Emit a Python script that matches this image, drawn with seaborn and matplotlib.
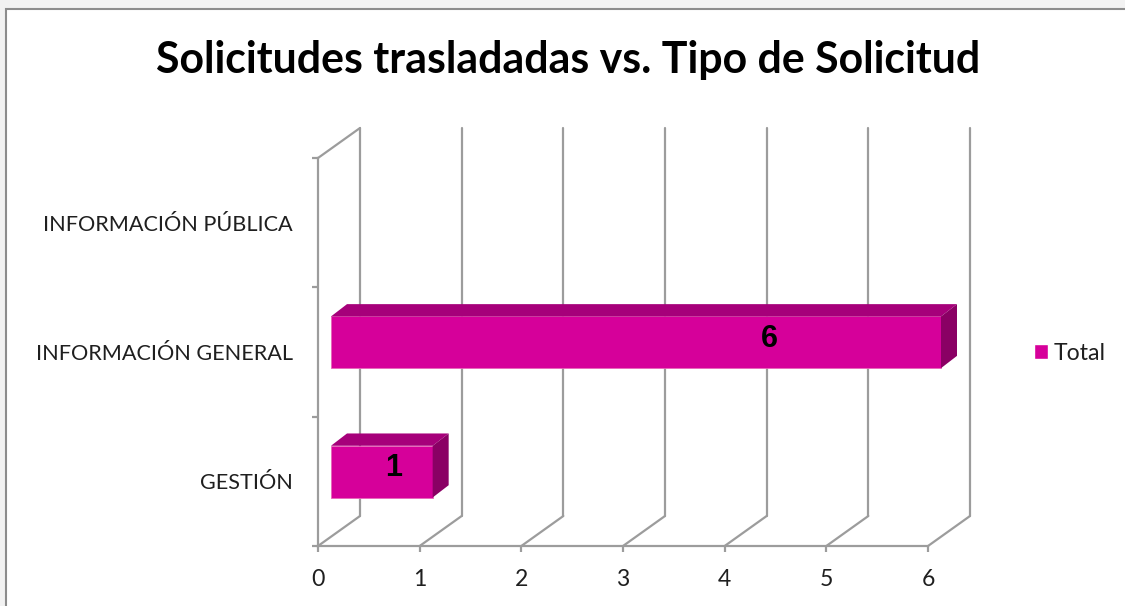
import numpy as np
import pandas as pd
import matplotlib
matplotlib.use("Agg")
import matplotlib.pyplot as plt
import seaborn as sns
from matplotlib.patches import Polygon, Rectangle, Patch
from matplotlib.lines import Line2D
from matplotlib.transforms import ScaledTranslation, IdentityTransform

# datos
categorias = ["INFORMACIÓN PÚBLICA", "INFORMACIÓN GENERAL", "GESTIÓN"]
totales = [0, 6, 1]
ticks_x = [0, 1, 2, 3, 4, 5, 6]
titulo = "Solicitudes trasladadas vs. Tipo de Solicitud"
serie = "Total"

frente = "#D6009A"
techo = "#A6007A"
lado = "#8A0064"
gris = "#9C9C9C"
texto = "#1F1F1F"

sns.set_theme(style="white")
plt.rcParams["font.family"] = ["Lato", "DejaVu Sans"]

W, H = 1125, 606
fig = plt.figure(figsize=(W / 100, H / 100), dpi=100)
fig.patch.set_facecolor("#F2F2F2")
fig.add_artist(Rectangle((6 / W, -0.05), 1.2, 1.05 - 9 / H, transform=fig.transFigure,
                         facecolor="white", edgecolor="#8C8C8C", lw=1.5, zorder=-10))

# plano frontal del grafico
x0, x1, yb, yt = 318, 928, 546, 158
ax = fig.add_axes([x0 / W, 1 - yb / H, (x1 - x0) / W, (yb - yt) / H])
ax.patch.set_alpha(0)

df = pd.DataFrame({"tipo": categorias, "total": totales})
sns.barplot(data=df, x="total", y="tipo", orient="h", order=categorias, color=frente,
            saturation=1, width=0.4, ax=ax, zorder=3, edgecolor="#E866B8", linewidth=0.6)
ax.set_xlim(0, 6)
ax.set_ylim(2.5, -0.5)
ax.set_xlabel("")
ax.set_ylabel("")

# desplazamientos 3D (px)
fdx, fdy = 13, 9.7
bdx, bdy = 16, 12.3
wdx, wdy = 42, 30
shift = ScaledTranslation(fdx / 100, fdy / 100, fig.dpi_scale_trans)
ident = IdentityTransform()

# paredes y lineas de division
ybd = ax.transAxes.transform((0, 0))[1]
ytd = ax.transAxes.transform((0, 1))[1]
for t in ticks_x:
    xd = ax.transData.transform((t, 0))[0]
    for seg in [((xd + wdx, ybd + wdy), (xd + wdx, ytd + wdy)),
                ((xd, ybd), (xd + wdx, ybd + wdy))]:
        ax.add_line(Line2D([seg[0][0], seg[1][0]], [seg[0][1], seg[1][1]], transform=ident,
                           color=gris, lw=1.6, clip_on=False, zorder=1))
xl = ax.transData.transform((0, 0))[0]
ax.add_line(Line2D([xl, xl + wdx], [ytd, ytd + wdy], transform=ident, color=gris, lw=1.6,
                   clip_on=False, zorder=1))

# barras con caras superior y lateral
for p, v in zip(ax.patches, totales):
    if v <= 0:
        p.set_visible(False)
        continue
    p.set_transform(ax.transData + shift)
    p.set_clip_on(False)
    (a, b), (c, d) = ax.transData.transform([(p.get_x(), p.get_y()),
                                             (p.get_x() + p.get_width(), p.get_y() + p.get_height())])
    l, r = min(a, c) + fdx, max(a, c) + fdx
    bo, to = min(b, d) + fdy, max(b, d) + fdy
    ax.add_patch(Polygon([(l, to), (r, to), (r + bdx, to + bdy), (l + bdx, to + bdy)],
                         closed=True, transform=ident, facecolor=techo, edgecolor="none",
                         clip_on=False, zorder=3))
    ax.add_patch(Polygon([(r, bo), (r + bdx, bo + bdy), (r + bdx, to + bdy), (r, to)],
                         closed=True, transform=ident, facecolor=lado, edgecolor="none",
                         clip_on=False, zorder=3))

# tamanos de letra ajustados al ancho
rend = fig.canvas.get_renderer()
probe = fig.text(0, 0, "INFORMACIÓN GENERAL", fontsize=16)
fs = 16 * 256 / probe.get_window_extent(rend).width
probe.remove()
probe = fig.text(0, 0, titulo, fontsize=30, fontweight="bold")
fs_t = 30 * 823 / probe.get_window_extent(rend).width
probe.remove()
probe = fig.text(0, 0, serie, fontsize=16)
fs_l = 16 * 52 / probe.get_window_extent(rend).width
probe.remove()

# ejes
for s in ["top", "right"]:
    ax.spines[s].set_visible(False)
for s in ["left", "bottom"]:
    ax.spines[s].set_color(gris)
    ax.spines[s].set_linewidth(1.6)
    ax.spines[s].set_zorder(1)
ax.set_xticks(ticks_x)
ax.set_xticklabels([str(t) for t in ticks_x])
ax.set_yticks(range(len(categorias)))
ax.set_yticklabels(categorias)
ax.set_yticks([-0.5, 0.5, 1.5, 2.5], minor=True)
ax.tick_params(axis="x", which="major", direction="out", length=4.5, width=1.6, color=gris,
               labelsize=fs_l, labelcolor=texto, pad=12, bottom=True)
ax.tick_params(axis="y", which="major", length=0, labelsize=fs, labelcolor=texto, pad=18)
ax.tick_params(axis="y", which="minor", direction="out", length=4.5, width=1.6, color=gris, left=True)

# etiquetas de datos
lift = ScaledTranslation(0, 13 / 100, fig.dpi_scale_trans)
for i, v in enumerate(totales):
    if v > 0:
        ax.text(v * 0.74, i, str(v), transform=ax.transData + lift, ha="center", va="center",
                fontsize=22, fontweight="bold", family="Liberation Sans", color="black", zorder=5)

# titulo
fig.text(568.5 / W, 1 - 73 / H, titulo, ha="center", va="baseline", fontsize=fs_t,
         fontweight="bold", color="black")

# leyenda
hl = 14 / (fs_l * 100 / 72)
fig.legend(handles=[Patch(facecolor=frente)], labels=[serie], loc="center left",
           bbox_to_anchor=(1034 / W, 1 - 353 / H), bbox_transform=fig.transFigure,
           frameon=False, fontsize=fs_l, handlelength=hl, handleheight=hl, handletextpad=0.25,
           borderpad=0, borderaxespad=0, labelcolor=texto)

fig.savefig("out.png", dpi=100)
